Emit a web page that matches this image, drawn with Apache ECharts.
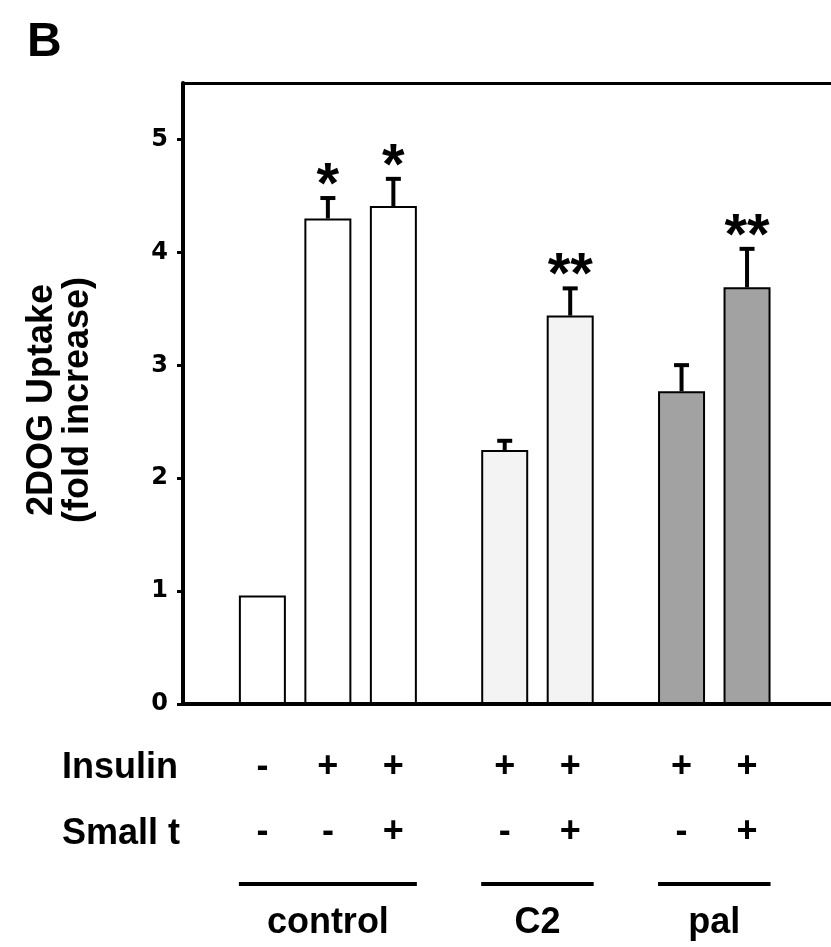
<!DOCTYPE html>
<html>
<head>
<meta charset="utf-8">
<script src="https://cdn.jsdelivr.net/npm/echarts@6/dist/echarts.min.js"></script>
<style>
  html, body { margin: 0; padding: 0; background: #fff; }
  #chart { width: 831px; height: 947px; }
</style>
</head>
<body>
<div id="chart"></div>
<script>
var groups = ['control', 'C2', 'pal']
var groupOf = [0, 0, 0, 1, 1, 2, 2]
var insulin = ['-', '+', '+', '+', '+', '+', '+']
var smallT = ['-', '-', '+', '-', '+', '-', '+']
var uptake = [0.96, 4.30, 4.41, 2.25, 3.44, 2.77, 3.69]
var sem = [0, 0.19, 0.25, 0.09, 0.25, 0.24, 0.35]
var stars = ['', '*', '*', '', '**', '', '**']
var yTicks = [0, 1, 2, 3, 4, 5]

var font = '"Liberation Sans", Arial, Helvetica, sans-serif'
var fills = ['#ffffff', '#f3f3f3', '#a2a2a2']
var groupGap = 0.7
var barW = 47

// one unit per bar on the x value axis, plus a gap between groups
function slot(i) {
  return i + groupOf[i] * groupGap
}

var bars = uptake.map(function (v, i) {
  return { value: [slot(i), v], itemStyle: { color: fills[groupOf[i]] } }
})
var errs = uptake.map(function (v, i) {
  return [slot(i), v, v + sem[i], i]
})
var spans = groups.map(function (g, k) {
  var idx = []
  groupOf.forEach(function (x, i) { if (x === k) idx.push(i) })
  return [slot(idx[0]), slot(idx[idx.length - 1]), k]
})

var chart = echarts.init(document.getElementById('chart'))
var xMin = -1.212, xMax = 8.682

chart.setOption({
  animation: false,
  backgroundColor: '#fff',
  grid: { left: 183, top: 83, right: -5, bottom: 243 },
  xAxis: [
    {
      type: 'value', min: xMin, max: xMax, position: 'bottom',
      axisLine: { onZero: false, lineStyle: { color: '#000', width: 4 } },
      axisTick: { show: false }, axisLabel: { show: false }, splitLine: { show: false }
    },
    {
      type: 'value', min: xMin, max: xMax, position: 'top',
      axisLine: { onZero: false, lineStyle: { color: '#000', width: 3 } },
      axisTick: { show: false }, axisLabel: { show: false }, splitLine: { show: false }
    }
  ],
  yAxis: {
    type: 'value', min: 0, max: 5.5, interval: 1,
    axisLine: { show: true, onZero: false, lineStyle: { color: '#000', width: 4 } },
    axisTick: { show: true, length: 6, customValues: yTicks, lineStyle: { color: '#000', width: 3 } },
    axisLabel: {
      customValues: yTicks, margin: 15, color: '#000',
      fontSize: 24, fontWeight: 'bold', fontFamily: '"DejaVu Sans", sans-serif'
    },
    splitLine: { show: false }
  },
  graphic: [
    { type: 'text', left: 27, top: 19, style: { text: 'B', font: 'bold 48px ' + font, fill: '#000' } },
    {
      type: 'text', x: 60, y: 400, rotation: Math.PI / 2,
      style: {
        text: '2DOG Uptake\n(fold increase)', font: 'bold 36px ' + font, lineHeight: 36,
        align: 'center', verticalAlign: 'middle', fill: '#000'
      }
    },
    { type: 'text', x: 62, y: 768, style: { text: 'Insulin', font: 'bold 36px ' + font, verticalAlign: 'middle', fill: '#000' } },
    { type: 'text', x: 62, y: 834, style: { text: 'Small t', font: 'bold 36px ' + font, verticalAlign: 'middle', fill: '#000' } }
  ],
  series: [
    {
      type: 'bar',
      data: bars,
      barWidth: barW,
      itemStyle: { borderColor: '#000', borderWidth: 2 },
      label: {
        show: true, position: 'bottom', distance: 31,
        formatter: function (p) { return insulin[p.dataIndex] + '\n' + smallT[p.dataIndex] },
        color: '#000', fontSize: 36, fontWeight: 'bold', fontFamily: font, lineHeight: 65
      }
    },
    {
      type: 'custom',
      clip: false,
      data: errs,
      encode: { x: 0, y: [1, 2] },
      z: 3,
      renderItem: function (params, api) {
        var i = api.value(3)
        var top = api.coord([api.value(0), api.value(1)])
        var end = api.coord([api.value(0), api.value(2)])
        var kids = []
        if (sem[i] > 0) {
          kids.push({ type: 'line', shape: { x1: top[0], y1: top[1], x2: end[0], y2: end[1] }, style: { stroke: '#000', lineWidth: 4 } })
          kids.push({ type: 'line', shape: { x1: end[0] - 7.5, y1: end[1] + 1, x2: end[0] + 7.5, y2: end[1] + 1 }, style: { stroke: '#000', lineWidth: 4 } })
        }
        if (stars[i]) {
          kids.push({
            type: 'text', x: end[0], y: end[1] - 10,
            style: { text: stars[i], font: 'bold 58px ' + font, align: 'center', verticalAlign: 'middle', fill: '#000' }
          })
        }
        return { type: 'group', children: kids }
      }
    },
    {
      type: 'custom',
      clip: false,
      data: spans,
      encode: { x: [0, 1] },
      renderItem: function (params, api) {
        var a = api.coord([api.value(0), 0])
        var b = api.coord([api.value(1), 0])
        var y = a[1] + 180
        return {
          type: 'group',
          children: [
            { type: 'line', shape: { x1: a[0] - barW / 2, y1: y, x2: b[0] + barW / 2, y2: y }, style: { stroke: '#000', lineWidth: 4 } },
            {
              type: 'text', x: (a[0] + b[0]) / 2, y: y + 39,
              style: { text: groups[api.value(2)], font: 'bold 36px ' + font, align: 'center', verticalAlign: 'middle', fill: '#000' }
            }
          ]
        }
      }
    }
  ]
})
</script>
</body>
</html>
